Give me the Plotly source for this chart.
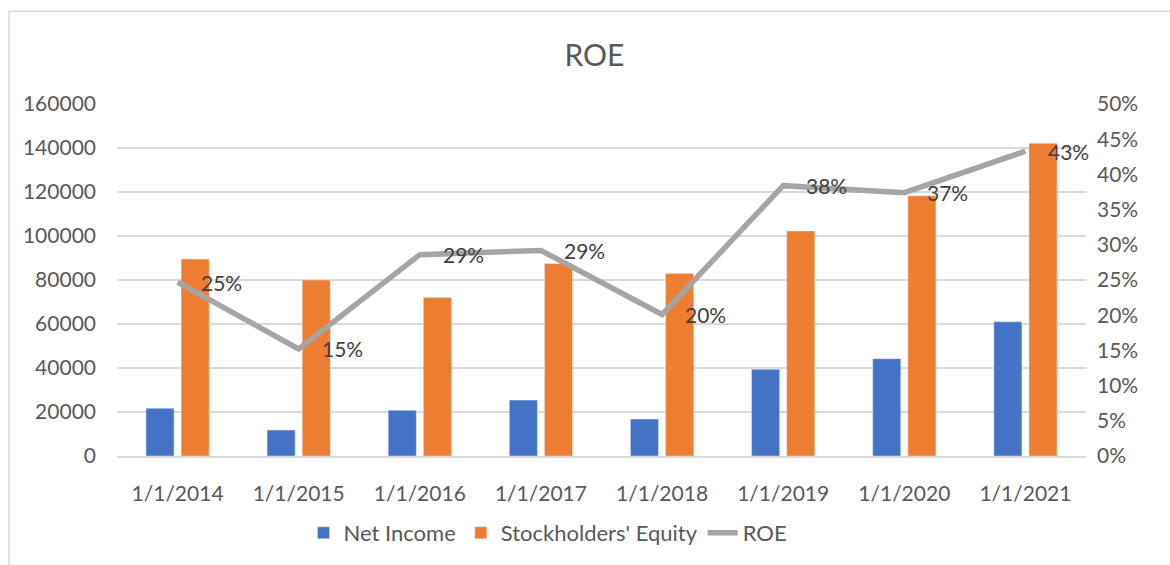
import plotly.graph_objects as go

categories = ["1/1/2014", "1/1/2015", "1/1/2016", "1/1/2017", "1/1/2018", "1/1/2019", "1/1/2020", "1/1/2021"]
net_income = [21700, 11800, 20800, 25400, 16800, 39400, 44200, 61000]
equity = [89500, 80000, 72100, 87500, 83000, 102300, 118300, 142200]
roe = [0.247, 0.152, 0.286, 0.292, 0.201, 0.384, 0.374, 0.433]
left_ticks = list(range(0, 160001, 20000))
right_ticks = [i * 0.05 for i in range(11)]

FONT = "Lato"
TXT = "#595959"
GRID = "#d9d9d9"

fig = go.Figure()
fig.add_trace(go.Bar(x=categories, y=net_income, name="Net Income", marker_color="#4472c4"))
fig.add_trace(go.Bar(x=categories, y=equity, name="Stockholders' Equity", marker_color="#ed7d31"))
fig.add_trace(go.Scatter(x=categories, y=roe, name="ROE", mode="lines", yaxis="y2",
                         line=dict(color="#a5a5a5", width=5.5)))

annotations = []
for c, v in zip(categories, roe):
    annotations.append(dict(x=c, y=v, xref="x", yref="y2", text=f"{round(v*100)}%",
                            showarrow=False, xanchor="left", yanchor="middle", xshift=21,
                            font=dict(family=FONT, size=21, color="#404040")))

fig.update_layout(
    width=1170, height=565,
    margin=dict(l=117, r=84, t=104, b=108),
    paper_bgcolor="white", plot_bgcolor="white",
    barmode="group", bargap=0.42, bargroupgap=0.2,
    font=dict(family=FONT, size=21, color=TXT),
    title=dict(text="ROE", x=0.508, xanchor="center", y=1 - 55 / 565, yanchor="middle", yref="container",
               font=dict(family=FONT, size=30, color=TXT)),
    xaxis=dict(type="category", range=[-0.5, len(categories) - 0.5], showgrid=False, showline=True,
               linecolor=GRID, linewidth=1.5, automargin=False, ticks="", ticklabelstandoff=18,
               tickfont=dict(size=21, color=TXT)),
    yaxis=dict(range=[0, 160000], tickvals=left_ticks, ticktext=[str(t) for t in left_ticks],
               showgrid=True, gridcolor=GRID, gridwidth=1.5, zeroline=False, showline=False,
               automargin=False, ticks="", ticklabelstandoff=20, tickfont=dict(size=21, color=TXT)),
    yaxis2=dict(range=[0, 0.5], tickvals=right_ticks, tickformat=".0%", overlaying="y", side="right",
                showgrid=False, zeroline=False, showline=False, automargin=False, ticks="",
                ticklabelstandoff=10, tickfont=dict(size=21, color=TXT)),
    legend=dict(orientation="h", x=(548 - 117) / 969, xanchor="center", y=(457 - 533) / 353, yanchor="middle",
                font=dict(family=FONT, size=22, color=TXT), itemwidth=30, traceorder="normal"),
    annotations=annotations,
    shapes=[dict(type="rect", xref="paper", yref="paper",
                 x0=(9 - 117) / 969, x1=(1180 - 117) / 969,
                 y0=(457 - 575) / 353, y1=(457 - 11) / 353,
                 line=dict(color="#d9d9d9", width=1.5), layer="below")],
)

fig.write_html("out.html", config={"displayModeBar": False},
               post_script="document.body.style.margin='0';document.body.style.padding='0';")
